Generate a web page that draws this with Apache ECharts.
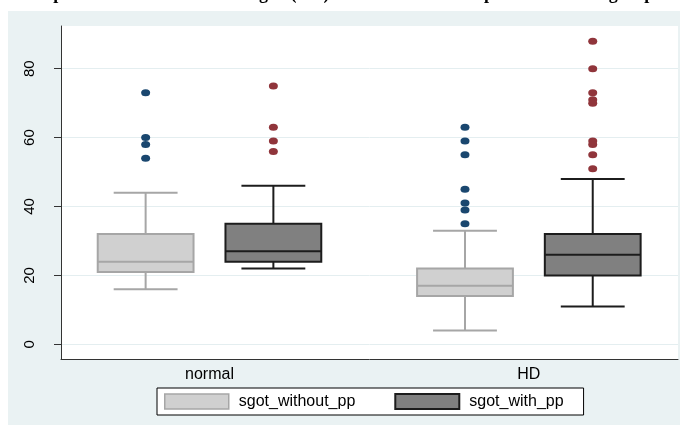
<!DOCTYPE html>
<html><head><meta charset="utf-8">
<script src="https://cdn.jsdelivr.net/npm/echarts@6.0.0/dist/echarts.min.js"></script>
<style>html,body{margin:0;padding:0;background:#fff}#c{width:680px;height:425px}</style>
</head><body><div id="c"></div>
<script>
// ---- data ----
const categories = ['normal', 'HD'];
const seriesNames = ['sgot_without_pp', 'sgot_with_pp'];
// [lower whisker, Q1, median, Q3, upper whisker] per category
const withoutBox = [[16, 21, 24, 32, 44], [4, 14, 17, 22, 33]];
const withBox = [[22, 24, 27, 35, 46], [11, 20, 26, 32, 48]];
const withoutOutliers = [[73, 60, 58, 54], [63, 59, 55, 45, 41, 39, 35]];
const withOutliers = [[75, 63, 59, 56], [88, 80, 73, 71, 70, 59, 58, 55, 51]];
const yTicks = [0, 20, 40, 60, 80];
const titleText = 'Box plots of the effect of the league (HD) on SGOT values in patients in both groups';

// ---- styles ----
const lightStyle = { fill: '#D0D0D0', stroke: '#A6A6A6', lineWidth: 2 };
const darkStyle = { fill: '#808080', stroke: '#1C1C1C', lineWidth: 2 };
const OFFSET = 0.2, BOXW = 0.30, CAPW = 0.20;

function boxData(arr) { return arr.map((b, i) => [i + 1].concat(b)); }
function outlierData(arr, off) {
  const out = [];
  arr.forEach((vals, i) => vals.forEach(v => out.push([i + 1 + off, v])));
  return out;
}
function boxRender(off, st) {
  return function (params, api) {
    const x = api.value(0) + off;
    const lo = api.coord([x, api.value(1)]);
    const q1 = api.coord([x, api.value(2)]);
    const md = api.coord([x, api.value(3)]);
    const q3 = api.coord([x, api.value(4)]);
    const hi = api.coord([x, api.value(5)]);
    const hb = api.size([BOXW / 2, 0])[0];
    const hc = api.size([CAPW / 2, 0])[0];
    const cx = lo[0];
    const ls = { stroke: st.stroke, lineWidth: st.lineWidth };
    return {
      type: 'group',
      children: [
        { type: 'line', shape: { x1: cx, y1: hi[1], x2: cx, y2: q3[1] }, style: ls },
        { type: 'line', shape: { x1: cx, y1: q1[1], x2: cx, y2: lo[1] }, style: ls },
        { type: 'line', shape: { x1: cx - hc, y1: hi[1], x2: cx + hc, y2: hi[1] }, style: ls },
        { type: 'line', shape: { x1: cx - hc, y1: lo[1], x2: cx + hc, y2: lo[1] }, style: ls },
        { type: 'rect', shape: { x: cx - hb, y: q3[1], width: hb * 2, height: q1[1] - q3[1] },
          style: { fill: st.fill, stroke: st.stroke, lineWidth: st.lineWidth } },
        { type: 'line', shape: { x1: cx - hb, y1: md[1], x2: cx + hb, y2: md[1] }, style: ls }
      ]
    };
  };
}

const chart = echarts.init(document.getElementById('c'), null, { renderer: 'canvas' });
chart.setOption({
  animation: false,
  title: {
    text: titleText, left: 'center', top: -20,
    textStyle: { fontFamily: 'Liberation Serif', fontWeight: 'bold', fontSize: 18, color: '#000' }
  },
  graphic: [{
    type: 'rect', z: -10, silent: true,
    shape: { x: 8, y: 11, width: 672, height: 414 },
    style: { fill: '#EAF2F3' }
  }],
  grid: { left: 61, top: 26, right: 2, bottom: 66, show: true, backgroundColor: '#fff', borderWidth: 0 },
  legend: {
    left: 157, top: 388, orient: 'horizontal',
    itemWidth: 64, itemHeight: 15, itemGap: 39,
    backgroundColor: '#fff', borderColor: '#000', borderWidth: 1, borderRadius: 0,
    padding: [5, 20, 5, 7],
    icon: 'rect',
    textStyle: { fontFamily: 'Liberation Sans', fontSize: 16, color: '#000', padding: [0, 0, 0, 5] },
    data: [
      { name: seriesNames[0], itemStyle: { color: lightStyle.fill, borderColor: lightStyle.stroke, borderWidth: 1.5 } },
      { name: seriesNames[1], itemStyle: { color: darkStyle.fill, borderColor: darkStyle.stroke, borderWidth: 2 } }
    ]
  },
  xAxis: {
    type: 'value', min: 0.535, max: 2.467,
    axisLine: { show: true, onZero: false, lineStyle: { color: '#333', width: 1 } },
    axisTick: { show: false },
    splitLine: { show: false },
    axisLabel: {
      customValues: [1, 2],
      formatter: v => categories[Math.round(v) - 1] || '',
      fontFamily: 'Liberation Sans', fontSize: 16, color: '#000', margin: 8
    }
  },
  yAxis: {
    type: 'value', min: -4.26, max: 92.4,
    axisLine: { show: true, onZero: false, lineStyle: { color: '#333', width: 1 } },
    axisTick: { show: true, length: 7, customValues: yTicks, lineStyle: { color: '#333' } },
    splitLine: { show: true, lineStyle: { color: '#E4EEF0', width: 1 } },
    axisLabel: {
      customValues: yTicks, rotate: 90, margin: 24,
      fontFamily: 'Liberation Sans', fontSize: 15, color: '#000'
    }
  },
  series: [
    {
      name: seriesNames[0], type: 'custom', data: boxData(withoutBox),
      renderItem: boxRender(-OFFSET, lightStyle),
      itemStyle: { color: lightStyle.fill, borderColor: lightStyle.stroke },
      encode: { x: 0, y: [1, 2, 3, 4, 5] }
    },
    {
      name: seriesNames[1], type: 'custom', data: boxData(withBox),
      renderItem: boxRender(OFFSET, darkStyle),
      itemStyle: { color: darkStyle.fill, borderColor: darkStyle.stroke },
      encode: { x: 0, y: [1, 2, 3, 4, 5] }
    },
    {
      name: 'outliers_without', type: 'scatter', data: outlierData(withoutOutliers, -OFFSET),
      symbol: 'circle', symbolSize: [9, 7], itemStyle: { color: '#1A476F', opacity: 1 }
    },
    {
      name: 'outliers_with', type: 'scatter', data: outlierData(withOutliers, OFFSET),
      symbol: 'circle', symbolSize: [9, 7], itemStyle: { color: '#90353B', opacity: 1 }
    }
  ]
});
</script>
</body></html>
